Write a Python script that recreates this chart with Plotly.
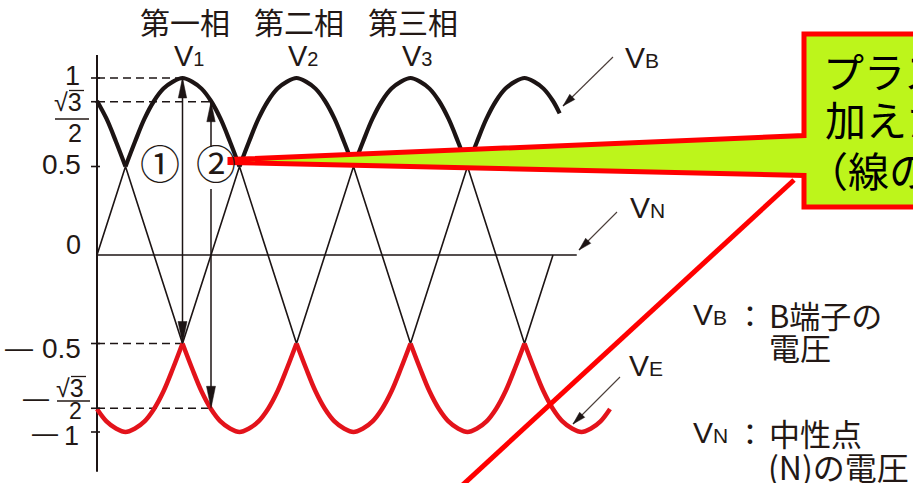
import math
import plotly.graph_objects as go

# ---------------- data ----------------
arc_offsets = [-60, -50, -40, -30, -20, -10, 0, 10, 20, 30, 40, 50, 60]      # degrees from arc centre
arc_profile = [0.5, 0.64, 0.77, 0.87, 0.94, 0.98, 1.0, 0.98, 0.94, 0.87, 0.77, 0.64, 0.5]

vb_peaks = [-30, 90, 210, 330, 450]       # V_B envelope arc centres (deg)
vb_start, vb_stop, vb_end_value = 0, 487, 0.80
ve_troughs = [30, 150, 270, 390, 510]     # V_E envelope arc centres (deg)
ve_start, ve_stop = 0, 540

vn_theta = [0, 30, 90, 150, 210, 270, 330, 390, 450, 480]
vn_values = [0, 0.5, -0.5, 0.5, -0.5, 0.5, -0.5, 0.5, -0.5, 0]
zero_line_theta = [0, 505]
axis_values = [1.13, -1.225]

dash_levels = [1.0, 0.866, -0.5, -0.866]
dash_theta = [90, 120, 90, 120]
tick_values = [1.0, 0.866, 0.5, 0.0, -0.5, -0.866, -1.0]

phase_names = ["第一相", "第二相", "第三相"]
phase_digits = ["1", "2", "3"]
phase_peaks = [90, 210, 330]

arrow1 = dict(theta=90, top=1.0, bottom=-0.5, label="①")
arrow2 = dict(theta=120, top=0.866, bottom=-0.866, label="②")

# ---------------- geometry / style ----------------
W, H = 913, 483
X0, KX = 97.0, 0.95      # pixel of theta=0, pixels per degree
Y0, KY = 255.0, 177.0    # pixel of v=0, pixels per unit

INK = "#231815"
CURVE = "#1c1414"
RED_CURVE = "#e3131b"
RED = "#ff0000"
LIME = "#bdf51b"
JP = "Noto Sans CJK JP"
LAT = "Liberation Sans"


def th(px):
    return (px - X0) / KX


def vv(py):
    return (Y0 - py) / KY


def to_px(theta):
    return X0 + KX * theta


def to_py(v):
    return Y0 - KY * v


def pp(px, py):
    return px / W, 1 - py / H


def build_arcs(centres, sign, lo, hi):
    segs = []
    for c in centres:
        seg = [(c + o, sign * v) for o, v in zip(arc_offsets, arc_profile) if lo <= c + o <= hi]
        if len(seg) > 1:
            segs.append(seg)
    return segs


def flatten(segs):
    xs, ys = [], []
    for s in segs:
        xs += [p[0] for p in s] + [None]
        ys += [p[1] for p in s] + [None]
    return xs, ys


vb_segs = build_arcs(vb_peaks, 1, vb_start, vb_stop)
vb_segs[-1].append((vb_stop, vb_end_value))
vb_x, vb_y = flatten(vb_segs)
ve_x, ve_y = flatten(build_arcs(ve_troughs, -1, ve_start, ve_stop))

fig = go.Figure()

# neutral triangle
fig.add_trace(go.Scatter(x=vn_theta, y=vn_values, mode="lines",
                         line=dict(color=CURVE, width=1.6), hoverinfo="skip"))
# zero line
fig.add_trace(go.Scatter(x=zero_line_theta, y=[0, 0], mode="lines",
                         line=dict(color=CURVE, width=1.6), hoverinfo="skip"))
# vertical axis
fig.add_trace(go.Scatter(x=[0, 0], y=axis_values, mode="lines",
                         line=dict(color=CURVE, width=2), hoverinfo="skip"))
# dashed reference lines
for lvl, t in zip(dash_levels, dash_theta):
    fig.add_trace(go.Scatter(x=[0, t], y=[lvl, lvl], mode="lines",
                             line=dict(color=CURVE, width=1.6, dash="8px,5px"), hoverinfo="skip"))
# arrow 1 shaft
fig.add_trace(go.Scatter(x=[arrow1["theta"]] * 2, y=[arrow1["top"], arrow1["bottom"]], mode="lines",
                         line=dict(color=CURVE, width=1.5), hoverinfo="skip"))
# arrow 2 shaft (with a gap for the label)
gap_top, gap_bottom = vv(147), vv(189)
fig.add_trace(go.Scatter(x=[arrow2["theta"]] * 5,
                         y=[arrow2["top"], gap_top, None, gap_bottom, arrow2["bottom"]], mode="lines",
                         line=dict(color=CURVE, width=1.5), hoverinfo="skip"))
# envelopes
fig.add_trace(go.Scatter(x=vb_x, y=vb_y, mode="lines", line=dict(color=CURVE, width=4.2, shape="spline"),
                         connectgaps=False, hoverinfo="skip"))
fig.add_trace(go.Scatter(x=ve_x, y=ve_y, mode="lines", line=dict(color=RED_CURVE, width=4.5, shape="spline"),
                         connectgaps=False, hoverinfo="skip"))

shapes = []


def path_px(points, close=True):
    s = ""
    for i, (x, y) in enumerate(points):
        px_, py_ = pp(x, y)
        s += ("M" if i == 0 else "L") + f"{px_:.5f},{py_:.5f} "
    return s + ("Z" if close else "")


def head(tip, tail, L, hw):
    tx, ty = tip
    dx, dy = tx - tail[0], ty - tail[1]
    n = math.hypot(dx, dy)
    ux, uy = dx / n, dy / n
    bx, by = tx - L * ux, ty - L * uy
    pts = [(tx, ty), (bx - hw * uy, by + hw * ux), (bx + hw * uy, by - hw * ux)]
    shapes.append(dict(type="path", path=path_px(pts), xref="paper", yref="paper",
                       fillcolor=CURVE, line=dict(color=CURVE, width=0.5), layer="above"))


def seg(p1, p2, width=1.2, color=INK):
    a = pp(*p1)
    b = pp(*p2)
    shapes.append(dict(type="line", x0=a[0], y0=a[1], x1=b[0], y1=b[1], xref="paper", yref="paper",
                       line=dict(color=color, width=width), layer="above"))


# y ticks
for v in tick_values:
    if v == 0:
        continue
    seg((X0 - 6, to_py(v)), (X0 + 3, to_py(v)), width=1.6, color=CURVE)

# arrowheads on arrow 1 / arrow 2
for a in (arrow1, arrow2):
    x = to_px(a["theta"])
    head((x, to_py(a["top"])), (x, to_py(a["top"]) + 50), 20, 4.2)
    head((x, to_py(a["bottom"])), (x, to_py(a["bottom"]) - 50), 22, 4.5)

# label arrows (V_B, V_N, V_E)
label_arrows = [((613, 57), (563, 106)), ((617, 212), (579, 250)), ((620, 377), (573, 424))]
for tail, tip in label_arrows:
    seg(tail, tip, width=1.1, color="#4a3c38")
    head(tip, tail, 13, 3.6)

# fraction bars and radical vinculums
seg((55, 119), (89, 119), width=1.4)
seg((57, 401), (90, 401), width=1.4)
seg((69, 90.5), (84, 90.5), width=1.3)
seg((71, 376.5), (86, 376.5), width=1.3)

# callout
callout = [(930, 34), (804, 34), (804, 135.5), (230, 159.5), (230, 162.5), (804, 175.5),
           (804, 207), (930, 207)]
shapes.append(dict(type="path", path=path_px(callout), xref="paper", yref="paper",
                   fillcolor=LIME, line=dict(color=RED, width=5), layer="above"))
seg((794, 180), (455, 492), width=5, color=RED)

annots = []


def txt(text, px, py, size, family=JP, xanchor="center", color=INK):
    x, y = pp(px, py)
    annots.append(dict(text=text, x=x, y=y, xref="paper", yref="paper", xanchor=xanchor,
                       yanchor="middle", showarrow=False, font=dict(size=size, family=family, color=color)))


# y tick labels
txt("1", 82, 76, 27, LAT, "right")
txt("√3", 84, 102, 25, LAT, "right")
txt("2", 75, 133, 25, LAT)
txt("0.5", 83, 164, 28, LAT, "right")
txt("0", 83, 245, 27, LAT, "right")
txt("—", 19, 347, 28, LAT)
txt("0.5", 83, 348, 28, LAT, "right")
txt("—", 36, 398, 26, LAT)
txt("√3", 86, 388, 25, LAT, "right")
txt("2", 75, 411, 23, LAT)
txt("—", 45, 433, 26, LAT)
txt("1", 81, 436, 27, LAT, "right")

# phase titles and V labels
for name, dig, pk in zip(phase_names, phase_digits, phase_peaks):
    x, _ = pp(to_px(pk) + 2, 0)
    annots.append(dict(text=name, x=x, y=pp(0, 21)[1], xref="paper", yref="paper", xanchor="center",
                       yanchor="middle", showarrow=False, font=dict(size=30, family=JP, color=INK)))
    annots.append(dict(text=f"V<span style='font-size:20px'>{dig}</span>", x=x + 4 / W, y=pp(0, 56)[1],
                       xref="paper", yref="paper", xanchor="center", yanchor="middle", showarrow=False,
                       font=dict(size=29, family=LAT, color=INK)))

# circled labels
txt(arrow1["label"], 160, 162, 40)
txt(arrow2["label"], 216, 162, 40)

# curve labels
txt("V<span style='font-size:21px'>B</span>", 623, 57, 30, LAT, "left")
txt("V<span style='font-size:21px'>N</span>", 628, 207, 30, LAT, "left")
txt("V<span style='font-size:21px'>E</span>", 627, 365, 30, LAT, "left")

# right-side legend text
txt("V<span style='font-size:21px'>B</span>", 691, 314, 30, LAT, "left")
txt("：", 750, 314, 30)
txt("B端子の", 767, 314, 31, JP, "left")
txt("電圧", 767, 346, 31, JP, "left")
txt("V<span style='font-size:21px'>N</span>", 691, 432, 30, LAT, "left")
txt("：", 750, 432, 30)
txt("中性点", 767, 432, 31, JP, "left")
txt("(N)の電圧", 766, 466, 32, JP, "left")

# callout text (clipped at the right edge like the original)
txt("プラス", 821, 70, 41, JP, "left", "#000000")
txt("加えた", 823, 118, 41, JP, "left", "#000000")
txt("（線の", 805, 169, 41, JP, "left", "#000000")

fig.update_layout(
    width=W, height=H, margin=dict(l=0, r=0, t=0, b=0),
    paper_bgcolor="white", plot_bgcolor="white", showlegend=False,
    xaxis=dict(range=[th(0), th(W)], visible=False, fixedrange=True),
    yaxis=dict(range=[vv(H), vv(0)], visible=False, fixedrange=True),
    shapes=shapes, annotations=annots,
)
fig.write_html("out.html", config={"displayModeBar": False},
               post_script="document.body.style.margin='0';document.body.style.overflow='hidden';")
